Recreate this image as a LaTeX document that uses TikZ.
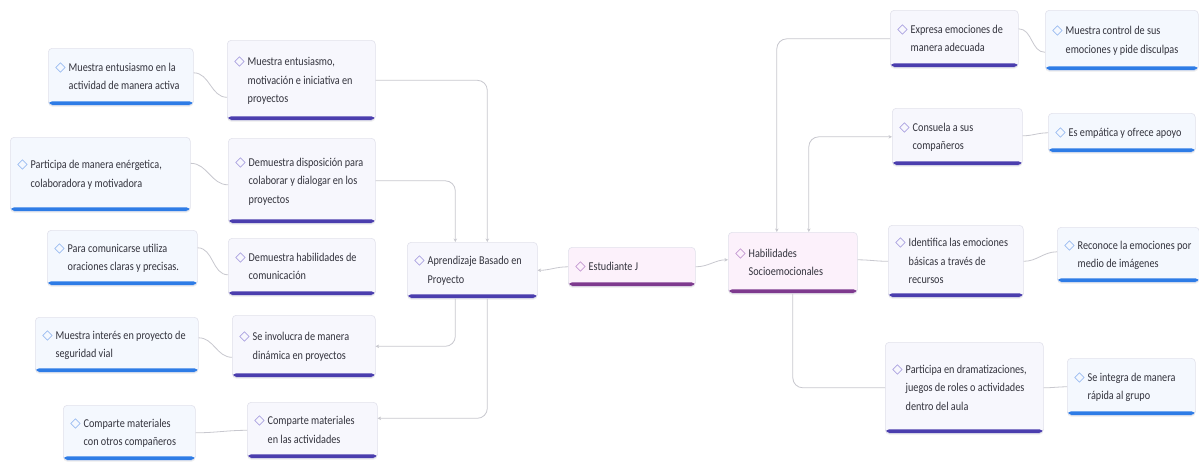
\documentclass[tikz,border=0pt]{standalone}
\usepackage{fontspec}
\setmainfont{Carlito}[FakeStretch=0.85]
\newfontfamily\mmsym{DejaVu Sans}
\usetikzlibrary{arrows.meta,shadows}

\definecolor{boxfill}{HTML}{F7F7FD}
\definecolor{leaffill}{HTML}{F4F8FE}
\definecolor{rootfill}{HTML}{FCF1FB}
\definecolor{boxline}{HTML}{E2E2EC}
\definecolor{barleaf}{HTML}{2E7CE6}
\definecolor{barmid}{HTML}{4B3EAE}
\definecolor{barroot}{HTML}{7E3A8E}
\definecolor{iconblue}{HTML}{86AEEE}
\definecolor{iconmid}{HTML}{9A8FDA}
\definecolor{iconroot}{HTML}{B784C8}
\definecolor{linkgrey}{HTML}{C8C8CF}
\definecolor{txt}{HTML}{33333D}

\newcommand\mmfont{\fontsize{12}{18.5}\selectfont}
\newcommand\ico[1]{\textcolor{icon}{\fontsize{13.5}{13.5}\mmsym ◇}\hspace{3pt}\begin{tabular}[t]{@{}l@{}}#1\end{tabular}}

\begin{document}
\begin{tikzpicture}[x=1pt, y=-1pt,
	mmbox/.style={draw=boxline, line width=0.6pt, rounded corners=4pt, fill=#1, anchor=north west,
		align=flush left, inner xsep=7pt, inner ysep=2pt, font=\mmfont, text=txt,
		drop shadow={shadow xshift=0pt, shadow yshift=-1.5pt, opacity=0.10}},
	bar/.style={path picture={\fill[#1] ([yshift=4pt]path picture bounding box.south west) rectangle (path picture bounding box.south east);}},
	leaf/.style={mmbox=leaffill, bar=barleaf, execute at begin node={\colorlet{icon}{iconblue}}},
	mid/.style={mmbox=boxfill, bar=barmid, execute at begin node={\colorlet{icon}{iconmid}}},
	root/.style={mmbox=rootfill, bar=barroot, execute at begin node={\colorlet{icon}{iconroot}}},
	link/.style={draw=linkgrey, line width=0.8pt, rounded corners=10pt},
	tip/.style={-{Stealth[length=3.5pt, width=3.5pt]}}]
	\fill[white] (0,0) rectangle (1199,463);
	\useasboundingbox (0,0) rectangle (1199,463);

	\node[leaf, text width=131pt, minimum height=57pt] (L1) at (48,48) {\ico{Muestra entusiasmo en la\\actividad de manera activa}};
	\node[leaf, text width=166pt, minimum height=74pt] (L2) at (10,137) {\ico{Participa de manera enérgetica,\\colaboradora y motivadora}};
	\node[leaf, text width=136pt, minimum height=55pt] (L3) at (47,230) {\ico{Para comunicarse utiliza\\oraciones claras y precisas.}};
	\node[leaf, text width=149pt, minimum height=55pt] (L4) at (35,317) {\ico{Muestra interés en proyecto de\\seguridad vial}};
	\node[leaf, text width=118pt, minimum height=55pt] (L5) at (63,405) {\ico{Comparte materiales\\con otros compañeros}};

	\node[mid, text width=134pt, minimum height=80pt] (M1) at (227,40) {\ico{Muestra entusiasmo,\\motivación e iniciativa en\\proyectos}};
	\node[mid, text width=133pt, minimum height=85pt] (M2) at (228,138) {\ico{Demuestra disposición para\\colaborar y dialogar en los\\proyectos}};
	\node[mid, text width=133pt, minimum height=57pt] (M3) at (228,238) {\ico{Demuestra habilidades de\\comunicación}};
	\node[mid, text width=129pt, minimum height=62pt] (M4) at (232,315) {\ico{Se involucra de manera\\dinámica en proyectos}};
	\node[mid, text width=116pt, minimum height=56pt] (M5) at (247,402) {\ico{Comparte materiales\\en las actividades}};

	\node[mid, text width=116pt, minimum height=56pt] (ABP) at (407,242) {\ico{Aprendizaje Basado en\\Proyecto}};
	\node[root, text width=113pt, minimum height=39pt] (EJ) at (568,247) {\ico{Estudiante J}};
	\node[root, text width=115pt, minimum height=61pt] (HS) at (728,232) {\ico{Habilidades\\Socioemocionales}};

	\node[mid, text width=114pt, minimum height=57pt] (R1) at (890,10) {\ico{Expresa emociones de\\manera adecuada}};
	\node[mid, text width=116pt, minimum height=57pt] (R2) at (892,108) {\ico{Consuela a sus\\compañeros}};
	\node[mid, text width=121pt, minimum height=72pt] (R3) at (888,225) {\ico{Identifica las emociones\\básicas a través de\\recursos}};
	\node[mid, text width=144pt, minimum height=91pt] (R4) at (885,342) {\ico{Participa en dramatizaciones,\\juegos de roles o actividades\\dentro del aula}};

	\node[leaf, text width=139pt, minimum height=60pt] (B1) at (1045,10) {\ico{Muestra control de sus\\emociones y pide disculpas}};
	\node[leaf, text width=133pt, minimum height=39pt] (B2) at (1048,113) {\ico{Es empática y ofrece apoyo}};
	\node[leaf, text width=128pt, minimum height=55pt] (B3) at (1057,227) {\ico{Reconoce la emociones por\\medio de imágenes}};
	\node[leaf, text width=114pt, minimum height=57pt] (B4) at (1067,358) {\ico{Se integra de manera\\rápida al grupo}};

	\foreach \a/\b/\s/\t in {L1/M1/4/-17, L2/M2/11/-4, L3/M3/10/-8, L4/M4/7/-11, L5/M5/0/0, R1/B1/10/-12, R2/B2/1/0, R3/B3/0/3, R4/B4/0/0}
	{
		\draw[link] ([yshift=\s pt]\a.east) to[out=0, in=180] ([yshift=\t pt]\b.west);
	}

	\draw[link, tip] (M1.east) -| ([xshift=15pt]ABP.north);
	\draw[link, tip] (M2.east) -| ([xshift=-17pt]ABP.north);
	\draw[link, tip] ([xshift=-17pt]ABP.south) |- (M4.east);
	\draw[link, tip] ([xshift=15pt]ABP.south) |- ([yshift=12pt]M5.east);
	\draw[link, tip] (EJ.west) to[out=180, in=0] (ABP.east);
	\draw[link, tip] (EJ.east) to[out=0, in=180] ([yshift=3pt]HS.west);

	\draw[link, tip] (R1.west) -| ([xshift=-16pt]HS.north);
	\draw[link, {Stealth[length=3.5pt, width=3.5pt]}-{Stealth[length=3.5pt, width=3.5pt]}] (R2.west) -| ([xshift=16pt]HS.north);
	\draw[link] ([yshift=3pt]HS.east) to[out=0, in=180] (R3.west);
	\draw[link] (HS.south) |- (R4.west);
\end{tikzpicture}
\end{document}
